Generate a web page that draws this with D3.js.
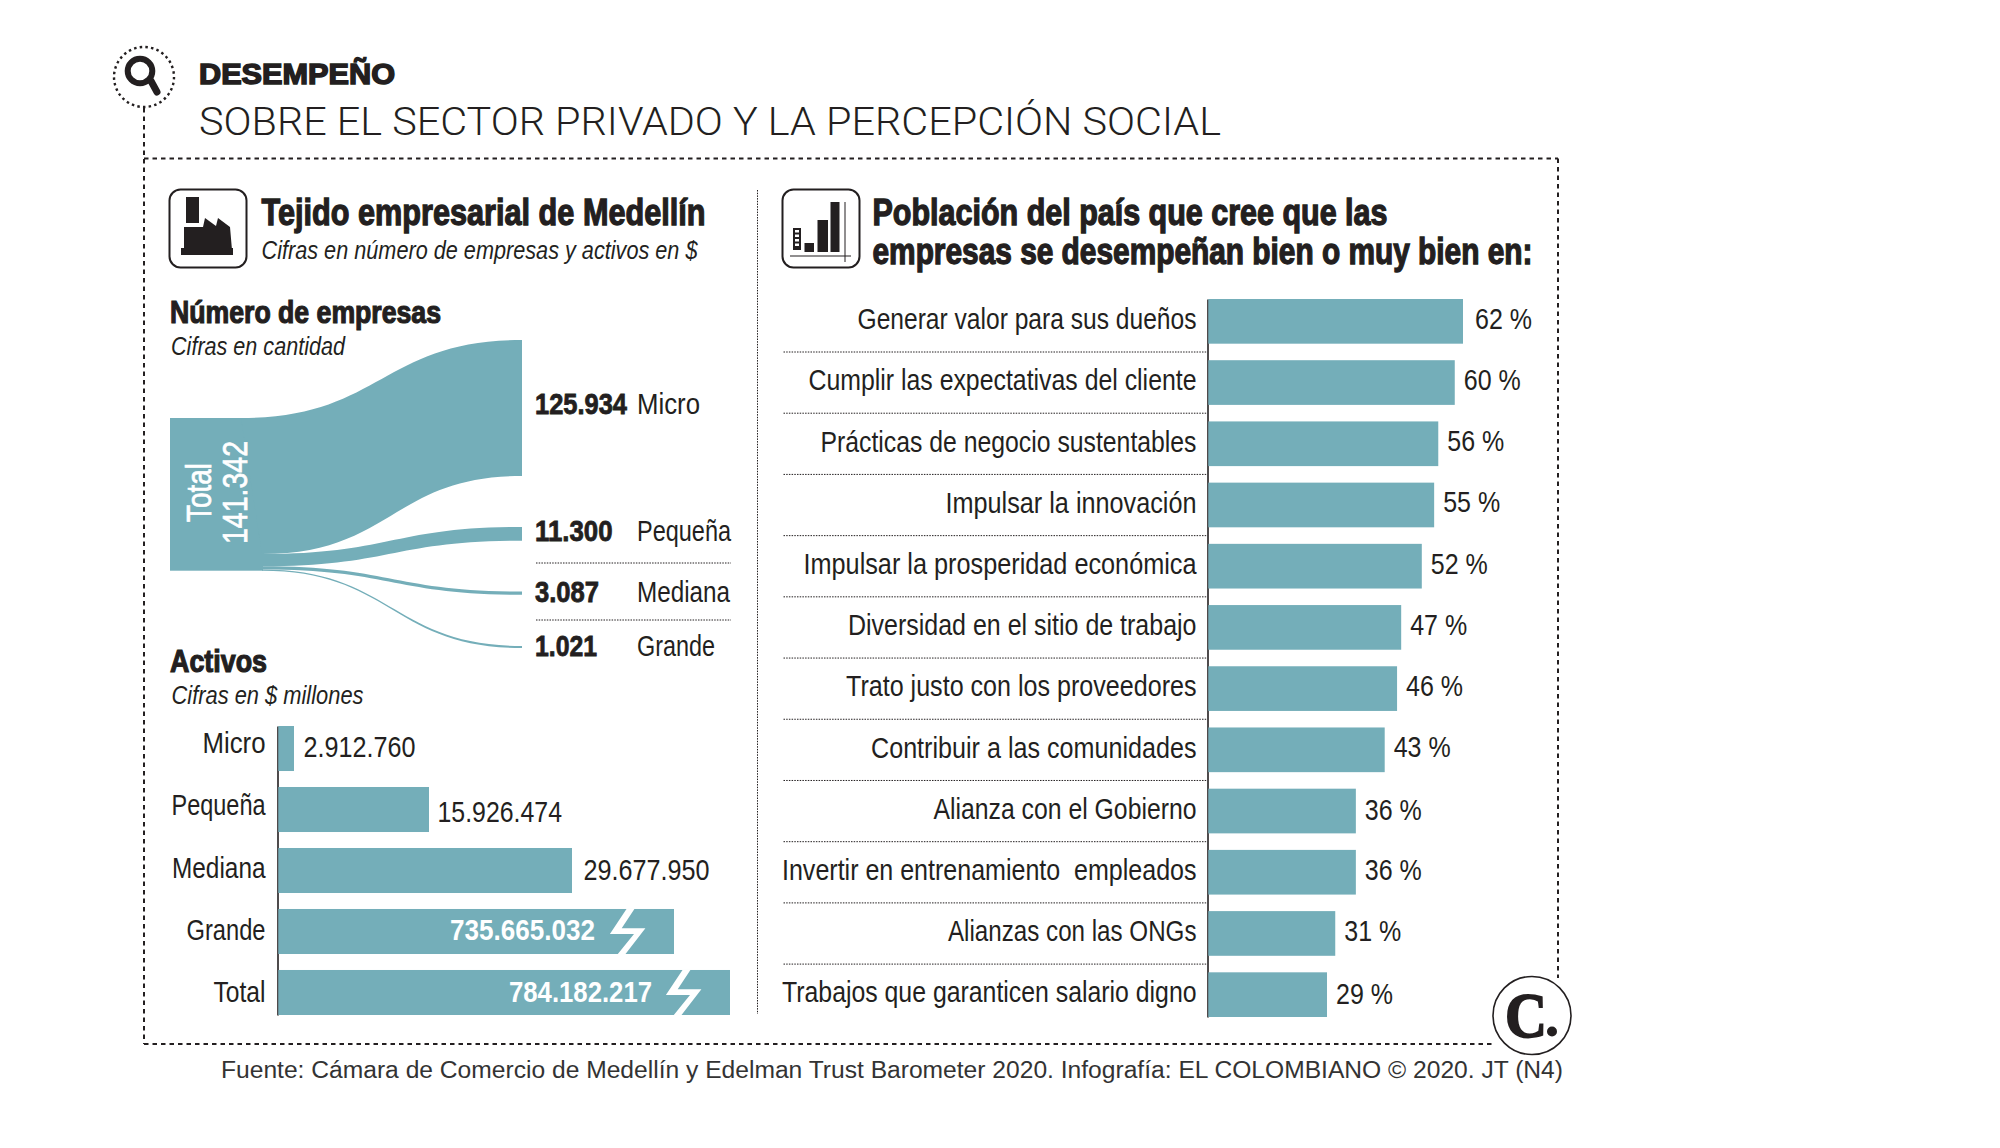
<!DOCTYPE html>
<html><head><meta charset="utf-8">
<script src="https://cdn.jsdelivr.net/npm/d3@7"></script>
<style>
html,body{margin:0;background:#fff}
svg{display:block}
text{white-space:pre}
</style></head><body>
<svg id="c" width="2000" height="1148"></svg>
<script>
// ---- data
const sankeyTotal = 141342;
const sankeyCategories = ["Micro","Pequeña","Mediana","Grande"];
const sankeyValues = [125934,11300,3087,1021];
const sankeyValueLabels = ["125.934","11.300","3.087","1.021"];
const assetCategories = ["Micro","Pequeña","Mediana","Grande","Total"];
const assetValues = [2912760,15926474,29677950,735665032,784182217];
const assetLabels = ["2.912.760","15.926.474","29.677.950","735.665.032","784.182.217"];
const perfCategories = ["Generar valor para sus dueños","Cumplir las expectativas del cliente","Prácticas de negocio sustentables","Impulsar la innovación","Impulsar la prosperidad económica","Diversidad en el sitio de trabajo","Trato justo con los proveedores","Contribuir a las comunidades","Alianza con el Gobierno","Invertir en entrenamiento  empleados","Alianzas con las ONGs","Trabajos que garanticen salario digno"];
const perfValues = [62,60,56,55,52,47,46,43,36,36,31,29];

// ---- styling
const TEAL="#74aeb9", INK="#231f20";
const NARROW="'Liberation Sans Narrow','Liberation Sans',sans-serif";
const svg=d3.select("#c");

function label(g,x,y,s,o={}){
  const t=g.append("text").attr("x",x).attr("y",y).text(s)
    .attr("font-family",o.family||NARROW).attr("font-size",o.size||28)
    .attr("font-weight",o.weight||400).attr("fill",o.fill||INK);
  if(o.italic)t.attr("font-style","italic");
  if(o.width)t.attr("textLength",o.width).attr("lengthAdjust","spacingAndGlyphs");
  if(o.heavy)t.attr("stroke",o.fill||INK).attr("stroke-width",o.heavy);
  if(o.transform)t.attr("transform",o.transform);
  return t;
}
const dashed=(x1,y1,x2,y2)=>svg.append("line").attr("x1",x1).attr("y1",y1).attr("x2",x2).attr("y2",y2)
  .attr("stroke",INK).attr("stroke-width",2).attr("stroke-dasharray","4.5 4");
const dotted=(x1,y1,x2,y2)=>svg.append("line").attr("x1",x1).attr("y1",y1).attr("x2",x2).attr("y2",y2)
  .attr("stroke",INK).attr("stroke-width",1).attr("stroke-dasharray","1.5 1.2");

// ---- frame
dashed(144,108,144,1044); dashed(144,158.5,1558,158.5); dashed(1558,158.5,1558,978); dashed(144,1044,1495,1044);
dotted(757.5,190,757.5,1014);

// magnifier
svg.append("circle").attr("cx",144).attr("cy",77).attr("r",30).attr("fill","none").attr("stroke",INK).attr("stroke-width",2.4).attr("stroke-dasharray","2.5 3.2");
svg.append("circle").attr("cx",140).attr("cy",71).attr("r",12.3).attr("fill","none").attr("stroke",INK).attr("stroke-width",6);
svg.append("line").attr("x1",151).attr("y1",81).attr("x2",157).attr("y2",92).attr("stroke",INK).attr("stroke-width",7).attr("stroke-linecap","round");

// titles
label(svg,199,84,"DESEMPEÑO",{family:"'Liberation Sans',sans-serif",weight:700,size:29,width:196,heavy:1.5});
label(svg,199,135,"SOBRE EL SECTOR PRIVADO Y LA PERCEPCIÓN SOCIAL",{family:"Roboto,'Liberation Sans',sans-serif",weight:300,size:39,width:1022});

// left header
svg.append("rect").attr("x",169.5).attr("y",189.5).attr("width",77).attr("height",78).attr("rx",11).attr("fill","none").attr("stroke",INK).attr("stroke-width",2);
svg.append("path").attr("fill",INK).attr("d","M186 197H199V223H186ZM184 250V227H203L205 218L216 226L218 218L230 227L232 250ZM181 248H233V255H181Z");
label(svg,261.5,225,"Tejido empresarial de Medellín",{size:37,weight:700,width:444,heavy:1.3});
label(svg,261.5,259,"Cifras en número de empresas y activos en $",{size:26,italic:true,width:436});
label(svg,170,323,"Número de empresas",{size:32,weight:700,width:271,heavy:1.2});
label(svg,171,355,"Cifras en cantidad",{size:25,italic:true,width:174});

// ---- sankey
const sankeyY=d3.scaleLinear().domain([0,sankeyTotal]).range([0,152.7]);
const sX=[241,262,522];
const sLeftTop=418, sRight=[340,527,591.5,646];
const minBand=v=>Math.max(sankeyY(v),2);
svg.append("rect").attr("x",170).attr("y",sLeftTop).attr("width",sX[1]-170+1).attr("height",sankeyY(sankeyTotal)).attr("fill",TEAL);
const band=d3.area().curve(d3.curveBumpX).x0(d=>d.x0).x1(d=>d.x1).y0(d=>d.y0).y1(d=>d.y1);
let cum=0;
sankeyValues.forEach((v,i)=>{
  const y0=sLeftTop+sankeyY(cum); cum+=v;
  const h=sankeyY(v), hr=minBand(v)*(i==1?1.12:1);
  svg.append("path").attr("fill",TEAL).attr("d",band([
    {x0:i==0?sX[0]:sX[1],x1:sX[1],y0:y0,y1:y0+h},
    {x0:sX[2],x1:sX[2],y0:sRight[i],y1:sRight[i]+hr}]));
});
const sBase=[414,541,601.7,655.7], sValW=[92,77.5,64,62], sCatW=[63,94,93,78];
sankeyCategories.forEach((c,i)=>{
  label(svg,535,sBase[i],sankeyValueLabels[i],{size:29,weight:700,width:sValW[i],heavy:.8});
  label(svg,637,sBase[i],c,{size:29,width:sCatW[i]});
});
dotted(536,563,731,563); dotted(536,620,731,620);
label(svg,0,0,"Total",{family:"'Liberation Sans',sans-serif",size:35,fill:"#fff",width:59,heavy:.7,transform:"translate(211,522) rotate(-90)"});
label(svg,0,0,"141.342",{family:"'Liberation Sans',sans-serif",size:35,fill:"#fff",width:103,heavy:.7,transform:"translate(246.5,544) rotate(-90)"});

// ---- asset bars (broken axis: piecewise scale)
label(svg,170,671.5,"Activos",{size:32,weight:700,width:97,heavy:1.2});
label(svg,171.5,704,"Cifras en $ millones",{size:25,italic:true,width:192});
const ax=d3.scaleLinear().domain([0].concat(assetValues)).range([277.5,294,429,572,674,730]);
const ay=d3.scaleBand().domain(assetCategories).range([726,1015]).paddingInner(.262);
const aAxis=svg.append("g").attr("transform","translate(277.5,0)").call(d3.axisLeft(ay).tickSize(0).tickPadding(12));
aAxis.select(".domain").attr("stroke",INK).attr("stroke-width",1.6);
const aCatDy=[4.6,5.6,7.6,8.6,9.3], aCatW=[63,94,93.5,79,52];
aAxis.selectAll("text").attr("font-family",NARROW).attr("font-size",30).attr("fill",INK).attr("dy",(d,i)=>aCatDy[i])
  .attr("textLength",(d,i)=>aCatW[i]).attr("lengthAdjust","spacingAndGlyphs");
svg.selectAll(".abar").data(assetValues).join("rect").attr("class","abar")
  .attr("x",ax(0)+.8).attr("y",(d,i)=>ay(assetCategories[i])).attr("width",d=>ax(d)-ax(0)-.8).attr("height",ay.bandwidth()).attr("fill",TEAL);
const aValBase=[756.7,821.7,880,940,1001.7], aValW=[112,124.5,126,145,143];
assetLabels.forEach((s,i)=>{
  const inside=i>=3;
  const x=inside?ax(assetValues[i])-(i==3?224:221):ax(assetValues[i])+(i==0?9.5:i==1?8.5:11.5);
  label(svg,x,aValBase[i],s,{size:30,fill:inside?"#fff":INK,width:aValW[i],weight:inside?700:400});
});
// axis-break marks
[3,4].forEach(i=>{
  const o=i==3?0:56, t=ay(assetCategories[i]), h=ay.bandwidth();
  const pts=[[626.5,0],[634.4,0],[621.7,19.3],[645.4,19.3],[625.5,h],[617.8,h],[634,25],[609.9,25]];
  svg.append("polygon").attr("fill","#fff").attr("points",pts.map(p=>[p[0]+o,p[1]+t].join(",")).join(" "));
});

// ---- right panel
svg.append("rect").attr("x",782.5).attr("y",189.5).attr("width",77).attr("height",78).attr("rx",11).attr("fill","none").attr("stroke",INK).attr("stroke-width",2);
const gi=svg.append("g").attr("fill",INK);
gi.append("rect").attr("x",793).attr("y",228).attr("width",8).attr("height",22);
gi.append("line").attr("x1",797).attr("y1",230).attr("x2",797).attr("y2",248).attr("stroke","#fff").attr("stroke-width",4).attr("stroke-dasharray","2.5 2");
gi.append("rect").attr("x",804.5).attr("y",243).attr("width",9.5).attr("height",9);
gi.append("rect").attr("x",817.5).attr("y",220).attr("width",10.5).attr("height",32);
gi.append("rect").attr("x",830.5).attr("y",202).attr("width",9).attr("height",50);
svg.append("line").attr("x1",790).attr("y1",256).attr("x2",851).attr("y2",256).attr("stroke",INK).attr("stroke-width",1.2);
svg.append("line").attr("x1",845).attr("y1",202).attr("x2",845).attr("y2",262).attr("stroke",INK).attr("stroke-width",1);
label(svg,872.5,225,"Población del país que cree que las",{size:36,weight:700,width:515,heavy:1.3});
label(svg,872.5,263.7,"empresas se desempeñan bien o muy bien en:",{size:36,weight:700,width:660,heavy:1.3});

const px=d3.scaleLinear().domain([0,62]).range([1207.5,1463]);
const py=d3.scaleBand().domain(perfCategories).range([299,1017]).paddingInner(.27);
const pAxis=svg.append("g").attr("transform","translate(1207.5,0)").call(d3.axisLeft(py).tickSize(0).tickPadding(11));
pAxis.select(".domain").attr("stroke",INK).attr("stroke-width",1.6);
const pCatW=[339,388,376,251,393,348.5,350.5,325.5,263,414.5,248.5,414.5];
pAxis.selectAll("text").attr("font-family",NARROW).attr("font-size",29).attr("fill",INK).attr("dy",7.8)
  .attr("textLength",(d,i)=>pCatW[i]).attr("lengthAdjust","spacingAndGlyphs");
svg.selectAll(".pbar").data(perfValues).join("rect").attr("class","pbar")
  .attr("x",px(0)+.8).attr("y",(d,i)=>py(perfCategories[i])).attr("width",d=>px(d)-px(0)-.8).attr("height",py.bandwidth()).attr("fill",TEAL);
perfValues.forEach((v,i)=>{
  label(svg,px(v)+(i==0?12:9),py(perfCategories[i])+(i==8||i==11?31.5:29.7),v+" %",{size:29,width:57});
  if(i<perfValues.length-1){const y=py(perfCategories[i])+53; dotted(783.5,y,1207,y);}
});

// logo
svg.append("circle").attr("cx",1532).attr("cy",1015.5).attr("r",39).attr("fill","#fff").attr("stroke",INK).attr("stroke-width",1.6);
label(svg,1505,1037,"C",{family:"'Liberation Serif',serif",weight:700,size:64,width:42,heavy:1.8});
svg.append("circle").attr("cx",1552).attr("cy",1031.5).attr("r",5).attr("fill",INK);

// source
label(svg,221,1078,"Fuente: Cámara de Comercio de Medellín y Edelman Trust Barometer 2020. Infografía: EL COLOMBIANO © 2020. JT (N4)",{family:"'Liberation Sans',sans-serif",size:23,width:1342,fill:"#333"});
</script>
</body></html>
